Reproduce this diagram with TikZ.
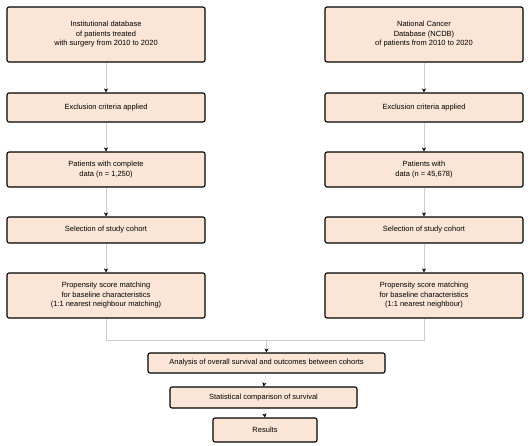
\documentclass[tikz,border=0pt]{standalone}
\usepackage{fontspec}
\setmainfont{Liberation Sans}
\usetikzlibrary{arrows.meta}
\definecolor{boxfill}{HTML}{FBE5D6}
\begin{document}
\begin{tikzpicture}[x=1pt,y=-1pt,
  box/.style={draw=black, line width=1.1pt, fill=boxfill, rounded corners=2pt,
    align=center, inner sep=0pt, font=\fontsize{7.5}{9.5}\selectfont},
  conn/.style={draw=gray!40, line width=0.3pt, -{Stealth[length=4pt,width=4pt,color=black]}},
  seg/.style={draw=gray!40, line width=0.3pt}]
\useasboundingbox (0,0) rectangle (530,445);
% left column
\node[box, minimum width=198pt, minimum height=55pt] (l1) at (106,34.5) {Institutional database\\of patients treated\\with surgery from 2010 to 2020};
\node[box, minimum width=198pt, minimum height=29pt] (l2) at (106,107.5) {Exclusion criteria applied};
\node[box, minimum width=198pt, minimum height=35pt] (l3) at (106,169.5) {Patients with complete\\data (n = 1,250)};
\node[box, minimum width=198pt, minimum height=26pt] (l4) at (106,230) {Selection of study cohort};
\node[box, minimum width=198pt, minimum height=45pt] (l5) at (106,295.5) {Propensity score matching\\for baseline characteristics\\(1:1 nearest neighbour matching)};
% right column
\node[box, minimum width=198pt, minimum height=55pt] (r1) at (424,34.5) {National Cancer\\Database (NCDB)\\of patients from 2010 to 2020};
\node[box, minimum width=198pt, minimum height=29pt] (r2) at (424,107.5) {Exclusion criteria applied};
\node[box, minimum width=198pt, minimum height=35pt] (r3) at (424,169.5) {Patients with\\data (n = 45,678)};
\node[box, minimum width=198pt, minimum height=26pt] (r4) at (424,230) {Selection of study cohort};
\node[box, minimum width=198pt, minimum height=45pt] (r5) at (424,295.5) {Propensity score matching\\for baseline characteristics\\(1:1 nearest neighbour)};
% bottom
\node[box, minimum width=237pt, minimum height=20pt] (b1) at (266.5,363) {Analysis of overall survival and outcomes between cohorts};
\node[box, minimum width=187pt, minimum height=21pt] (b2) at (263.5,397.5) {Statistical comparison of survival};
\node[box, minimum width=104pt, minimum height=24pt] (b3) at (265,430) {Results};
\coordinate (jl) at (106,340);
\coordinate (jr) at (424,340);
\coordinate (jm) at (266.5,340);
% connectors
\foreach \a/\b in {l1/l2,l2/l3,l3/l4,l4/l5,r1/r2,r2/r3,r3/r4,r4/r5}{
  \draw[conn] (\a.south) -- (\b.north);
}
\draw[line width=0.8pt] (l5.south) -- ++(0,20);
\draw[line width=0.8pt] (r5.south) -- ++(0,20);
\draw[seg] (l5.south) -- (jl) -- (jm);
\draw[seg] (r5.south) -- (jr) -- (jm);
\draw[conn] (jm) -- (b1.north);
\draw[conn] (b1.south) -- (b2.north);
\draw[conn] (b2.south) -- (b3.north);
\end{tikzpicture}
\end{document}
